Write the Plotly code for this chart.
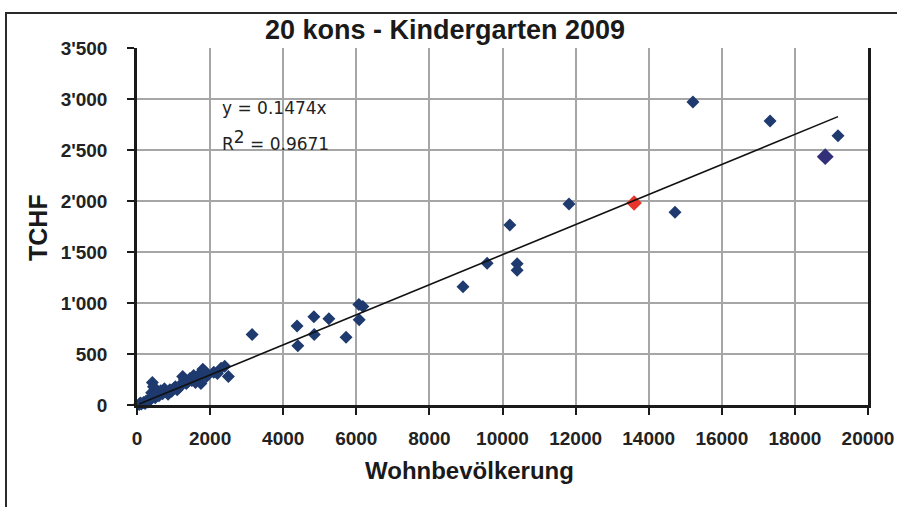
import plotly.graph_objects as go

# Wohnbevölkerung (x) und Kosten Kindergarten in TCHF (y) pro Gemeinde
population = [
    60, 90, 120, 180, 220, 250, 300, 330, 380, 400, 420, 450, 500, 520, 560,
    600, 650, 700, 750, 800, 850, 900, 950, 1000, 1050, 1100, 1150, 1200,
    1250, 1300, 1350, 1400, 1450, 1500, 1550, 1600, 1650, 1700, 1750, 1800,
    1850, 1900, 2100, 2200, 2300, 2400, 2500, 3150,
    4380, 4400, 4840, 4850, 5250, 5720, 6070, 6180, 6080,
    8920, 9580, 10200, 10400, 10400, 11820, 14720, 15210, 17320, 19180,
]
cost_tchf = [
    5, 20, 10, 25, 15, 40, 30, 55, 60, 120, 220, 180, 70, 95, 120,
    90, 140, 110, 160, 130, 105, 150, 135, 160, 180, 150, 170, 200,
    280, 250, 210, 230, 260, 240, 290, 220, 260, 300, 210, 350,
    330, 280, 320, 310, 360, 380, 280, 690,
    775, 580, 865, 690, 845, 665, 985, 965, 835,
    1160, 1390, 1765, 1385, 1320, 1970, 1890, 2970, 2785, 2640,
]

# Hervorgehobene Gemeinden
red_pop, red_cost = [13600], [1980]
purple_pop, purple_cost = [18830], [2435]

slope = 0.1474
r_squared = 0.9671

y_tickvals = [0, 500, 1000, 1500, 2000, 2500, 3000, 3500]
y_ticktext = ["0", "500", "1'000", "1'500", "2'000", "2'500", "3'000", "3'500"]
x_tickvals = [0, 2000, 4000, 6000, 8000, 10000, 12000, 14000, 16000, 18000, 20000]
x_ticktext = ["0", "2000", "4000", "6000", "8000", "10000", "12000",
              "14000", "16000", "18000", "20000"]

all_pop = population + red_pop + purple_pop
x_line = [min(all_pop), max(all_pop)]
y_line = [slope * v for v in x_line]

navy = "#1E3A6E"
font_bold = "Liberation Sans, Arial, sans-serif"
font_eq = "DejaVu Sans, sans-serif"

fig = go.Figure()
fig.add_trace(go.Scatter(
    x=population, y=cost_tchf, mode="markers",
    marker=dict(symbol="diamond", size=10, color=navy, line=dict(width=0)),
    showlegend=False, cliponaxis=False,
))
fig.add_trace(go.Scatter(
    x=red_pop, y=red_cost, mode="markers",
    marker=dict(symbol="diamond", size=12, color="#E8352B", line=dict(width=0)),
    showlegend=False,
))
fig.add_trace(go.Scatter(
    x=purple_pop, y=purple_cost, mode="markers",
    marker=dict(symbol="diamond", size=13, color="#33307A", line=dict(width=0)),
    showlegend=False,
))
fig.add_trace(go.Scatter(
    x=x_line, y=y_line, mode="lines",
    line=dict(color="#111111", width=1.6),
    showlegend=False, hoverinfo="skip",
))

# Plot area spans 137..868 px horizontally and 48..405 px vertically
L, R, T, B = 137, 29, 48, 102
W, H = 897, 507
pw, ph = W - L - R, H - T - B


def px(xp):
    return (xp - L) / pw


def py(yp):
    return (H - B - yp) / ph


tick_font = dict(family=font_bold, size=19, color="#222222", weight="bold")

fig.update_layout(
    width=W, height=H,
    margin=dict(l=L, r=R, t=T, b=B, autoexpand=False),
    paper_bgcolor="white", plot_bgcolor="white",
    xaxis=dict(
        range=[0, 20000], tickvals=x_tickvals, ticktext=x_ticktext,
        automargin=False,
        showgrid=True, gridcolor="#A6A6A6", gridwidth=2,
        showline=True, linecolor="#1a1a1a", linewidth=2.5,
        zeroline=False,
        ticks="outside", ticklen=7, tickwidth=2, tickcolor="#1a1a1a",
        ticklabelstandoff=7, tickfont=tick_font,
    ),
    yaxis=dict(
        range=[0, 3500], tickvals=y_tickvals, ticktext=y_ticktext,
        automargin=False,
        showgrid=True, gridcolor="#A6A6A6", gridwidth=2,
        showline=True, linecolor="#1a1a1a", linewidth=2.5, mirror=True,
        zeroline=False,
        ticks="outside", ticklen=7, tickwidth=2, tickcolor="#1a1a1a",
        ticklabelstandoff=16, tickfont=tick_font,
    ),
    font=dict(family=font_bold),
    shapes=[
        # outer frame: left and top edges
        dict(type="path", xref="paper", yref="paper",
             path=f"M {px(6)} {py(507)} L {px(6)} {py(13)} L {px(897)} {py(13)}",
             line=dict(color="#2a2a2a", width=2)),
    ],
    annotations=[
        dict(text="20 kons - Kindergarten 2009", xref="paper", yref="paper",
             x=px(445), y=py(30), xanchor="center", yanchor="middle",
             showarrow=False,
             font=dict(family=font_bold, size=27, color="#1a1a1a", weight="bold")),
        dict(text="TCHF", xref="paper", yref="paper",
             x=px(38), y=py(227), xanchor="center", yanchor="middle",
             textangle=-90, showarrow=False,
             font=dict(family=font_bold, size=25, color="#1a1a1a", weight="bold")),
        dict(text="Wohnbevölkerung", xref="paper", yref="paper",
             x=px(469), y=py(470), xanchor="center", yanchor="middle",
             showarrow=False,
             font=dict(family=font_bold, size=24, color="#1a1a1a", weight="bold")),
        dict(text=f"y = {slope}x", xref="paper", yref="paper",
             x=px(220), y=py(108), xanchor="left", yanchor="middle",
             showarrow=False,
             font=dict(family=font_eq, size=17, color="#222222")),
        dict(text=f"R<sup><span style='font-size:17px'>2</span></sup> = {r_squared}",
             xref="paper", yref="paper",
             x=px(220), y=py(140), xanchor="left", yanchor="middle",
             showarrow=False,
             font=dict(family=font_eq, size=17, color="#222222")),
    ],
)

fig.write_html("out.html")
